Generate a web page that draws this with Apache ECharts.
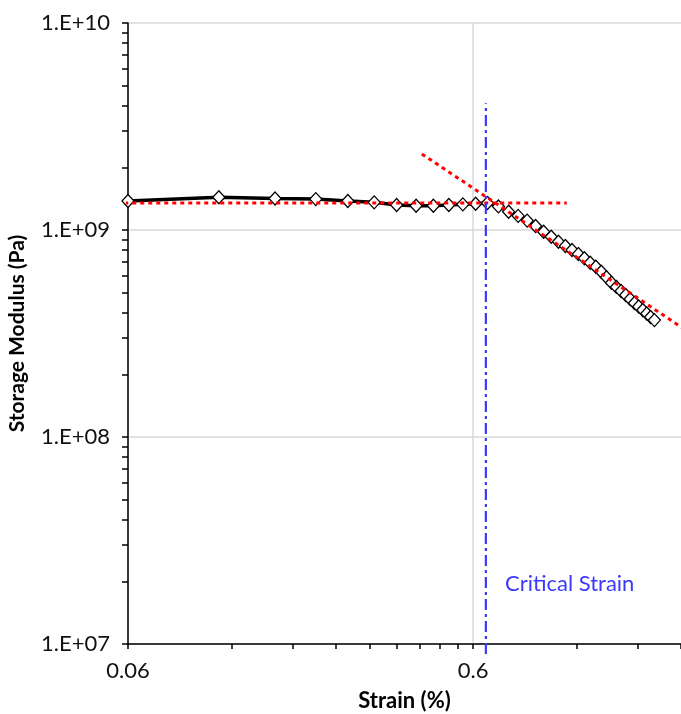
<!DOCTYPE html>
<html>
<head>
<meta charset="utf-8">
<script src="https://cdn.jsdelivr.net/npm/echarts@6/dist/echarts.min.js"></script>
<style>
  html, body { margin: 0; padding: 0; background: #fff; }
  #container { width: 681px; height: 714px; }
</style>
</head>
<body>
<div id="container"></div>
<script>
// strain sweep (%) and storage modulus (Pa)
var strain = [0.06, 0.11, 0.16, 0.21, 0.26, 0.31, 0.36, 0.41, 0.46, 0.51,
  0.56, 0.61, 0.66, 0.71, 0.76, 0.81, 0.86, 0.91, 0.96, 1.01,
  1.06, 1.11, 1.16, 1.21, 1.26, 1.31, 1.36, 1.41, 1.46, 1.51,
  1.56, 1.61, 1.66, 1.71, 1.76, 1.81, 1.86, 1.91, 1.96, 2.01];
var modulus = [1.38e9, 1.44e9, 1.42e9, 1.41e9, 1.38e9, 1.36e9, 1.32e9, 1.31e9, 1.31e9, 1.32e9,
  1.33e9, 1.34e9, 1.35e9, 1.30e9, 1.225e9, 1.17e9, 1.11e9, 1.045e9, 9.8e8, 9.28e8,
  8.78e8, 8.37e8, 8.0e8, 7.65e8, 7.30e8, 6.95e8, 6.65e8, 6.29e8, 5.91e8, 5.56e8,
  5.31e8, 5.07e8, 4.85e8, 4.64e8, 4.44e8, 4.27e8, 4.11e8, 3.95e8, 3.80e8, 3.67e8];

// fitted lines (red dotted) and critical strain marker
var plateauFit = [[0.0526, 1.35e9], [1.12, 1.35e9]];
var slopeFit = [[0.426, 2.33e9], [2.42, 3.37e8]];
var criticalStrain = 0.653;
var criticalRange = [8.95e6, 4.1e9];

// axis ticks
var xLabelValues = [0.06, 0.6];
var xTickValues = [0.06, 0.12, 0.18, 0.24, 0.3, 0.36, 0.42, 0.48, 0.54, 0.6, 1.2, 1.8, 2.4];
var yTickValues = [1e7, 2e7, 3e7, 4e7, 5e7, 6e7, 7e7, 8e7, 9e7,
  1e8, 2e8, 3e8, 4e8, 5e8, 6e8, 7e8, 8e8, 9e8,
  1e9, 2e9, 3e9, 4e9, 5e9, 6e9, 7e9, 8e9, 9e9, 1e10];

var font = 'Lato, "Open Sans", sans-serif';
var myChart = echarts.init(document.getElementById('container'));

var option = {
  animation: false,
  backgroundColor: '#fff',
  grid: { left: 128, right: 0, top: 23, bottom: 70, containLabel: false, outerBoundsMode: 'none' },
  xAxis: [{
    type: 'log', logBase: 10, min: 0.06, max: 2.4,
    name: 'Strain (%)', nameLocation: 'middle', nameGap: 46,
    nameTextStyle: { fontFamily: font, fontSize: 22, fontWeight: 'bold', color: '#000' },
    axisLine: { show: true, lineStyle: { color: '#000', width: 1.5 } },
    axisTick: { show: false, customValues: xLabelValues },
    axisLabel: { customValues: xLabelValues, fontFamily: font, fontSize: 22, color: '#111', margin: 16,
      formatter: function (v) { return String(+v.toFixed(3)); } },
    splitLine: { show: true, lineStyle: { color: '#d9d9d9', width: 1.5 } }
  }, {
    type: 'log', logBase: 10, min: 0.06, max: 2.4, position: 'bottom',
    axisLine: { show: false },
    axisTick: { show: true, customValues: xTickValues, inside: false, length: 5, lineStyle: { color: '#000', width: 1.5 } },
    axisLabel: { show: false },
    splitLine: { show: false }
  }],
  yAxis: [{
    type: 'log', logBase: 10, min: 1e7, max: 1e10,
    name: 'Storage Modulus (Pa)', nameLocation: 'middle', nameGap: 100,
    nameTextStyle: { fontFamily: font, fontSize: 21, fontWeight: 'bold', color: '#000' },
    axisLine: { show: true, lineStyle: { color: '#000', width: 1.5 } },
    axisTick: { show: false },
    axisLabel: { fontFamily: font, fontSize: 22, color: '#111', margin: 18,
      formatter: function (v) {
        var e = Math.round(Math.log10(v));
        return '1.E+' + (e < 10 ? '0' + e : e);
      } },
    splitLine: { show: true, lineStyle: { color: '#d9d9d9', width: 1.5 } }
  }, {
    type: 'log', logBase: 10, min: 1e7, max: 1e10, position: 'left',
    axisLine: { show: false },
    axisTick: { show: true, customValues: yTickValues, inside: false, length: 6, lineStyle: { color: '#000', width: 1.5 } },
    axisLabel: { show: false },
    splitLine: { show: false }
  }],
  series: [{
    name: 'Storage Modulus',
    type: 'line',
    data: strain.map(function (s, i) { return [s, modulus[i]]; }),
    lineStyle: { color: '#000', width: 3.5 },
    symbol: 'diamond',
    symbolSize: [12, 13],
    itemStyle: { color: '#fff', borderColor: '#000', borderWidth: 1.3 },
    z: 2
  }, {
    name: 'plateau fit',
    type: 'line',
    data: plateauFit,
    clip: false,
    symbol: 'none',
    lineStyle: { color: '#ff0000', width: 3, type: [4, 4] },
    z: 3
  }, {
    name: 'slope fit',
    type: 'line',
    data: slopeFit,
    clip: false,
    symbol: 'none',
    lineStyle: { color: '#ff0000', width: 3, type: [4, 4] },
    z: 3
  }, {
    name: 'Critical Strain',
    type: 'line',
    data: [[criticalStrain, criticalRange[0]], [criticalStrain, criticalRange[1]]],
    clip: false,
    symbol: 'none',
    lineStyle: { color: '#3a3aff', width: 2.2, type: [11, 4, 3, 4] },
    z: 4
  }],
  graphic: [{
    type: 'text',
    left: 505, top: 573,
    style: { text: 'Critical Strain', fill: '#3a3aff', font: '22px ' + font }
  }]
};
myChart.setOption(option);
</script>
</body>
</html>
